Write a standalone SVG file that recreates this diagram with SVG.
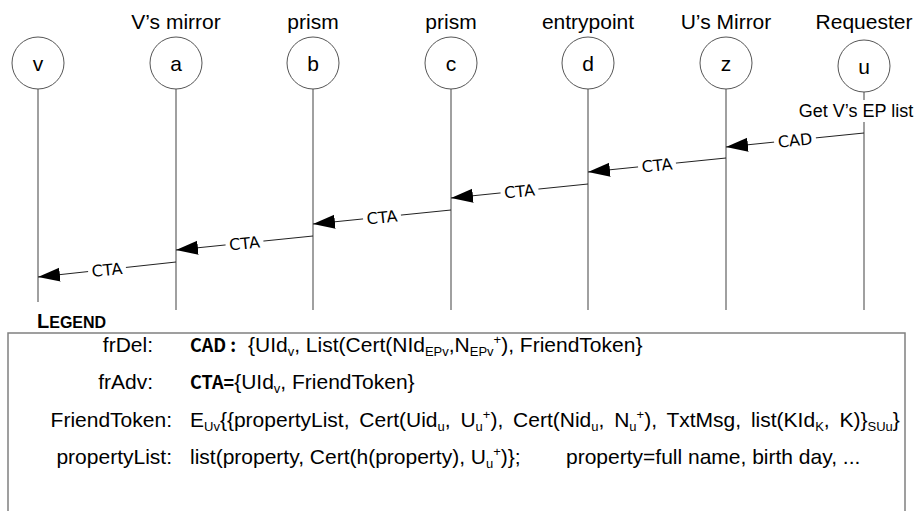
<svg xmlns="http://www.w3.org/2000/svg" width="919" height="511" viewBox="0 0 919 511">
<style>
.lbl{font-family:"Liberation Sans",Arial,sans-serif;font-size:21px;fill:#000;text-anchor:middle}
.circ{fill:#fff;stroke:#555;stroke-width:1}
.life{stroke:#808080;stroke-width:1.5;fill:none}
.msg{stroke:#222;stroke-width:1;fill:none;marker-end:url(#ah)}
.ml{font-family:"DejaVu Sans",sans-serif;font-size:16px;fill:#000;text-anchor:middle}
.lg{font-family:"Liberation Sans",Arial,sans-serif;font-size:21px;fill:#000}
.sb{font-size:13px}
.bd{font-family:"Noto Sans CJK SC","DejaVu Sans",sans-serif;font-weight:bold;font-size:18px}
</style>
<defs>
<marker id="ah" markerUnits="userSpaceOnUse" markerWidth="24" markerHeight="16" refX="22" refY="7" orient="auto">
<path d="M0,0 L22,7 L0,14 Z" fill="#000"/>
</marker>
</defs>
<rect width="919" height="511" fill="#fff"/>

<g id="lifelines">
<line class="life" x1="38" y1="89" x2="38" y2="302"/>
<line class="life" x1="176" y1="89" x2="176" y2="310"/>
<line class="life" x1="313" y1="89" x2="313" y2="310"/>
<line class="life" x1="451" y1="89" x2="451" y2="310"/>
<line class="life" x1="588" y1="89" x2="588" y2="310"/>
<line class="life" x1="726" y1="89" x2="726" y2="310"/>
<line class="life" x1="864" y1="92" x2="864" y2="100"/>
<line class="life" x1="864" y1="122" x2="864" y2="310"/>
</g>

<g id="node-v"><circle class="circ" cx="38" cy="63" r="26"/><text class="lbl" x="38" y="71">v</text></g>
<g id="node-a"><text class="lbl" x="176" y="29">V’s mirror</text><circle class="circ" cx="176" cy="63" r="26"/><text class="lbl" x="176" y="71">a</text></g>
<g id="node-b"><text class="lbl" x="313" y="29">prism</text><circle class="circ" cx="313" cy="63" r="26"/><text class="lbl" x="313" y="71">b</text></g>
<g id="node-c"><text class="lbl" x="451" y="29">prism</text><circle class="circ" cx="451" cy="63" r="26"/><text class="lbl" x="451" y="71">c</text></g>
<g id="node-d"><text class="lbl" x="588" y="29">entrypoint</text><circle class="circ" cx="588" cy="63" r="26"/><text class="lbl" x="588" y="71">d</text></g>
<g id="node-z"><text class="lbl" x="726" y="29">U’s Mirror</text><circle class="circ" cx="726" cy="63" r="26"/><text class="lbl" x="726" y="71">z</text></g>
<g id="node-u"><text class="lbl" x="864" y="29">Requester</text><circle class="circ" cx="864" cy="66" r="26"/><text class="lbl" x="864" y="74">u</text>
<text class="lbl" x="856" y="117" style="font-size:18px">Get V’s EP list</text></g>

<g id="connectors">
<line class="msg" x1="864" y1="133" x2="726" y2="147"/>
<line class="msg" x1="726" y1="158" x2="588" y2="172"/>
<line class="msg" x1="588" y1="184" x2="451" y2="198"/>
<line class="msg" x1="451" y1="210" x2="313" y2="224"/>
<line class="msg" x1="313" y1="236" x2="176" y2="250"/>
<line class="msg" x1="176" y1="262" x2="38" y2="277"/>
<g transform="translate(795,140) rotate(-5.8)"><rect x="-21" y="-8" width="42" height="16" fill="#fff"/><text class="ml" y="6">CAD</text></g>
<g transform="translate(657,165) rotate(-5.8)"><rect x="-19" y="-8" width="38" height="16" fill="#fff"/><text class="ml" y="6">CTA</text></g>
<g transform="translate(519.5,191) rotate(-5.8)"><rect x="-19" y="-8" width="38" height="16" fill="#fff"/><text class="ml" y="6">CTA</text></g>
<g transform="translate(382,217) rotate(-5.8)"><rect x="-19" y="-8" width="38" height="16" fill="#fff"/><text class="ml" y="6">CTA</text></g>
<g transform="translate(244.5,243) rotate(-5.8)"><rect x="-19" y="-8" width="38" height="16" fill="#fff"/><text class="ml" y="6">CTA</text></g>
<g transform="translate(107,269.5) rotate(-5.8)"><rect x="-19" y="-8" width="38" height="16" fill="#fff"/><text class="ml" y="6">CTA</text></g>
</g>

<g id="legend">
<text x="37" y="328" style="font-family:'Liberation Sans',Arial,sans-serif;font-weight:bold;font-size:20px">L<tspan style="font-size:16px">EGEND</tspan></text>
<path d="M8,520 L8,333 L905,333 L905,520" fill="none" stroke="#808080" stroke-width="1.5"/>
<text class="lg" x="153" y="352" text-anchor="end">frDel:</text>
<text class="lg" x="190" y="352"><tspan class="bd">CAD</tspan><tspan class="bd" dx="4">:</tspan></text>
<text class="lg" x="248" y="352">{UId<tspan class="sb" dy="4">v</tspan><tspan dy="-4">, List(Cert(NId</tspan><tspan class="sb" dy="4">EPv</tspan><tspan dy="-4">,N</tspan><tspan class="sb" dy="4">EPv</tspan><tspan class="sb" dy="-12">+</tspan><tspan dy="8">), FriendToken}</tspan></text>

<text class="lg" x="153" y="389" text-anchor="end">frAdv:</text>
<text class="lg" x="190" y="389"><tspan class="bd">CTA=</tspan>{UId<tspan class="sb" dy="4">v</tspan><tspan dy="-4">, FriendToken}</tspan></text>

<text class="lg" x="172" y="427" text-anchor="end">FriendToken:</text>
<text class="lg" x="190" y="427" style="word-spacing:4px">E<tspan class="sb" dy="4">Uv</tspan><tspan dy="-4">{{propertyList, Cert(Uid</tspan><tspan class="sb" dy="4">u</tspan><tspan dy="-4">, U</tspan><tspan class="sb" dy="4">u</tspan><tspan class="sb" dy="-12">+</tspan><tspan dy="8">), Cert(Nid</tspan><tspan class="sb" dy="4">u</tspan><tspan dy="-4">, N</tspan><tspan class="sb" dy="4">u</tspan><tspan class="sb" dy="-12">+</tspan><tspan dy="8">), TxtMsg, list(KId</tspan><tspan class="sb" dy="4">K</tspan><tspan dy="-4">, K)}</tspan><tspan class="sb" dy="4">SUu</tspan><tspan dy="-4">}</tspan></text>

<text class="lg" x="172" y="464" text-anchor="end">propertyList:</text>
<text class="lg" x="190" y="464">list(property, Cert(h(property), U<tspan class="sb" dy="4">u</tspan><tspan class="sb" dy="-12">+</tspan><tspan dy="8">)};</tspan></text>
<text class="lg" x="566" y="464">property=full name, birth day, ...</text>
</g>
</svg>
